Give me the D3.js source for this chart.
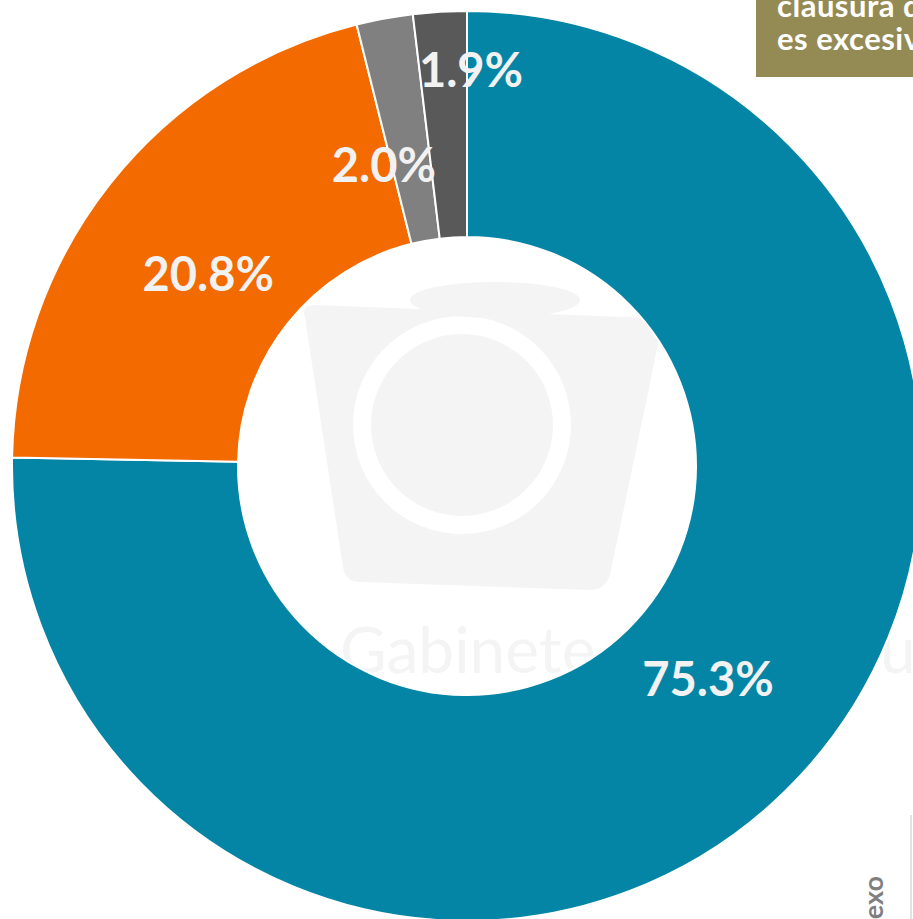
<!DOCTYPE html>
<html>
<head>
<meta charset="utf-8">
<script src="https://cdnjs.cloudflare.com/ajax/libs/d3/7.8.5/d3.min.js"></script>
<style>
  html, body { margin: 0; padding: 0; background: #fff; overflow: hidden; }
  svg { display: block; }
</style>
</head>
<body>
<div id="chart"></div>
<script>
// data
var categories = ["A", "B", "C", "D"];
var shares = [75.3, 20.8, 2.0, 1.9];
var sliceColors = ["#0585a5", "#f26a00", "#808080", "#595959"];
var boxLines = ["clausura de", "es excesivo"];

// per label tweak of where the text sits: [angle shift in degrees, radius]
var labelShift = [[-4, 322], [-2, 322], [-5, 312], [4, 396]];

var W = 913, H = 919;
var cx = 467, cy = 466, rOuter = 455, rInner = 229;

var svg = d3.select("#chart").append("svg")
    .attr("width", W)
    .attr("height", H);

// faint watermark behind the ring
var wm = svg.append("g").attr("fill", "#f4f4f4");
wm.append("path")
    .attr("d", "M305,318 Q300,305 315,305 L650,318 Q665,320 660,335 L610,575 Q605,590 590,590 L360,582 Q345,582 343,567 Z");
wm.append("circle")
    .attr("cx", 462).attr("cy", 425).attr("r", 100)
    .attr("fill", "none").attr("stroke", "#fff").attr("stroke-width", 18);
wm.append("ellipse")
    .attr("cx", 495).attr("cy", 300).attr("rx", 85).attr("ry", 18)
    .attr("fill", "#f4f4f4");
wm.append("text")
    .attr("x", 340).attr("y", 673)
    .attr("font-family", "Lato, sans-serif")
    .attr("font-size", 64)
    .text("Gabinete");
wm.append("text")
    .attr("x", 880).attr("y", 673)
    .attr("font-family", "Lato, sans-serif")
    .attr("font-size", 64)
    .text("u");

var pie = d3.pie().sort(null).value(function (d) { return d; });
var arcs = pie(shares);

var arc = d3.arc().innerRadius(rInner).outerRadius(rOuter);

var g = svg.append("g").attr("transform", "translate(" + cx + "," + cy + ")");

g.selectAll("path.slice")
    .data(arcs)
    .enter().append("path")
    .attr("class", "slice")
    .attr("d", arc)
    .attr("fill", function (d, i) { return sliceColors[i]; })
    .attr("stroke", "#fff")
    .attr("stroke-width", 2);

g.selectAll("text.lbl")
    .data(arcs)
    .enter().append("text")
    .attr("class", "lbl")
    .attr("transform", function (d, i) {
        var a = (d.startAngle + d.endAngle) / 2 + labelShift[i][0] * Math.PI / 180;
        var r = labelShift[i][1];
        return "translate(" + (r * Math.sin(a)) + "," + (-r * Math.cos(a)) + ")";
    })
    .attr("text-anchor", "middle")
    .attr("dy", "0.36em")
    .attr("font-family", "Lato, sans-serif")
    .attr("font-weight", 700)
    .attr("font-size", 47)
    .attr("fill", "#f2f2f2")
    .text(function (d) { return d.data.toFixed(1) + "%"; });

// olive note box, cut by the top right corner
svg.append("rect")
    .attr("x", 756).attr("y", -20)
    .attr("width", 200).attr("height", 97)
    .attr("fill", "#948a54");

svg.selectAll("text.box")
    .data(boxLines)
    .enter().append("text")
    .attr("class", "box")
    .attr("x", 777)
    .attr("y", function (d, i) { return 17 + i * 33; })
    .attr("font-family", "Lato, sans-serif")
    .attr("font-weight", 700)
    .attr("font-size", 31)
    .attr("letter-spacing", 0.5)
    .attr("fill", "#fff")
    .text(function (d) { return d; });

// bits of the next panel at the bottom right
svg.append("line")
    .attr("x1", 911).attr("x2", 911)
    .attr("y1", 815).attr("y2", H)
    .attr("stroke", "#d9d9d9")
    .attr("stroke-width", 1.5);

svg.append("text")
    .attr("transform", "translate(883,876) rotate(-90)")
    .attr("text-anchor", "end")
    .attr("font-family", "Lato, sans-serif")
    .attr("font-weight", 700)
    .attr("font-size", 27)
    .attr("fill", "#7f7f7f")
    .text("Anexo");
</script>
</body>
</html>
